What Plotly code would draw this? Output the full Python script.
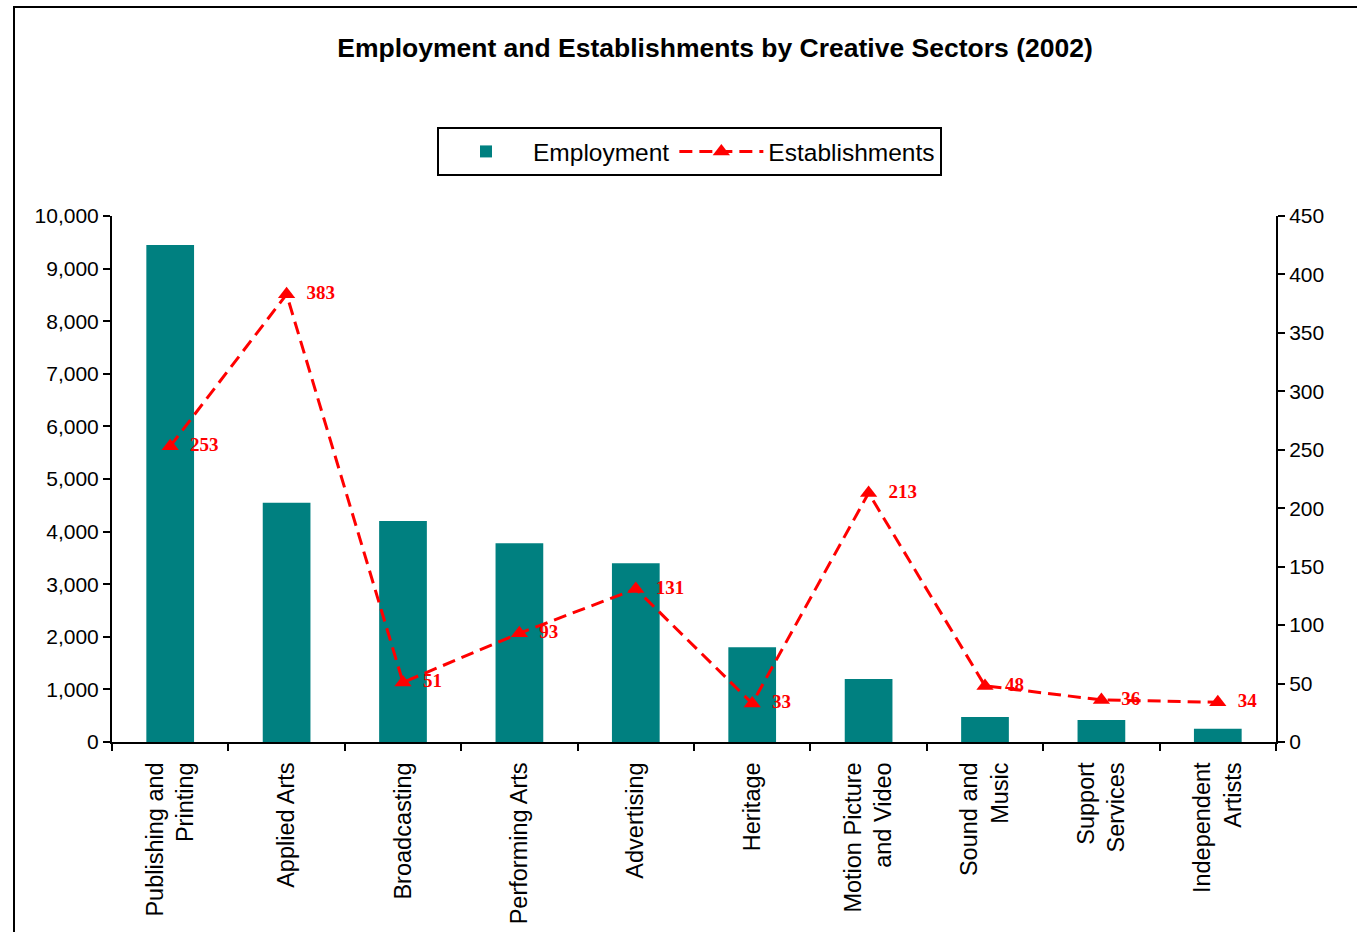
import plotly.graph_objects as go

categories = ["Publishing and<br>Printing", "Applied Arts", "Broadcasting", "Performing Arts",
              "Advertising", "Heritage", "Motion Picture<br>and Video", "Sound and<br>Music",
              "Support<br>Services", "Independent<br>Artists"]
employment = [9450, 4550, 4200, 3780, 3400, 1800, 1200, 475, 420, 250]
establishments = [253, 383, 51, 93, 131, 33, 213, 48, 36, 34]

fig = go.Figure()
fig.add_trace(go.Bar(
    x=categories, y=employment, name="Employment",
    marker=dict(color="#008080", line=dict(width=0)),
    yaxis="y",
))
fig.add_trace(go.Scatter(
    x=categories, y=establishments, name="Establishments",
    mode="lines+markers+text",
    line=dict(color="#FF0000", width=3, dash="13px,7px"),
    marker=dict(symbol="triangle-up", size=15, color="#FF0000"),
    text=[f"  {v}" for v in establishments],
    textposition="middle right",
    textfont=dict(family="Liberation Serif", size=19, color="#FF0000", weight="bold"),
    yaxis="y2",
))

fig.update_layout(
    width=1357, height=932,
    margin=dict(l=112, r=81, t=216, b=190),
    paper_bgcolor="white", plot_bgcolor="white",
    font=dict(family="Liberation Sans, Arial", color="black"),
    title=dict(text="<b>Employment and Establishments by Creative Sectors (2002)</b>",
               x=715 / 1357, xanchor="center", xref="container",
               y=1 - 48 / 932, yanchor="middle", yref="container",
               font=dict(size=26.5, color="black")),
    bargap=0.59,
    showlegend=True,
    legend=dict(orientation="h", x=(437 - 112) / 1164, xanchor="left",
                y=(742 - 127) / 526, yanchor="top",
                bordercolor="black", borderwidth=2, bgcolor="white",
                font=dict(size=24.5), itemwidth=84),
    xaxis=dict(range=[-0.5, 9.5], showline=True, linecolor="black", linewidth=2,
               ticks="outside", tickson="boundaries", ticklen=7, tickwidth=2, tickcolor="black",
               tickangle=-90, tickfont=dict(size=23.5), showgrid=False, ticklabelstandoff=9,
               automargin=False),
    yaxis=dict(range=[0, 10000], dtick=1000, tickformat=",", showline=True,
               linecolor="black", linewidth=2, ticks="outside", ticklen=7, tickwidth=2,
               tickcolor="black", showgrid=False, zeroline=False, tickfont=dict(size=21),
               automargin=False),
    yaxis2=dict(range=[0, 450], dtick=50, overlaying="y", side="right", showline=True,
                linecolor="black", linewidth=2, ticks="outside", ticklen=7, tickwidth=2,
                tickcolor="black", showgrid=False, zeroline=False, tickfont=dict(size=21),
                automargin=False),
    shapes=[dict(type="rect", xref="paper", yref="paper",
                 x0=(14 - 112) / 1164, x1=1.3, y0=-0.6, y1=(742 - 7) / 526,
                 line=dict(color="black", width=2), layer="below")],
)

fig.write_html("out.html")
